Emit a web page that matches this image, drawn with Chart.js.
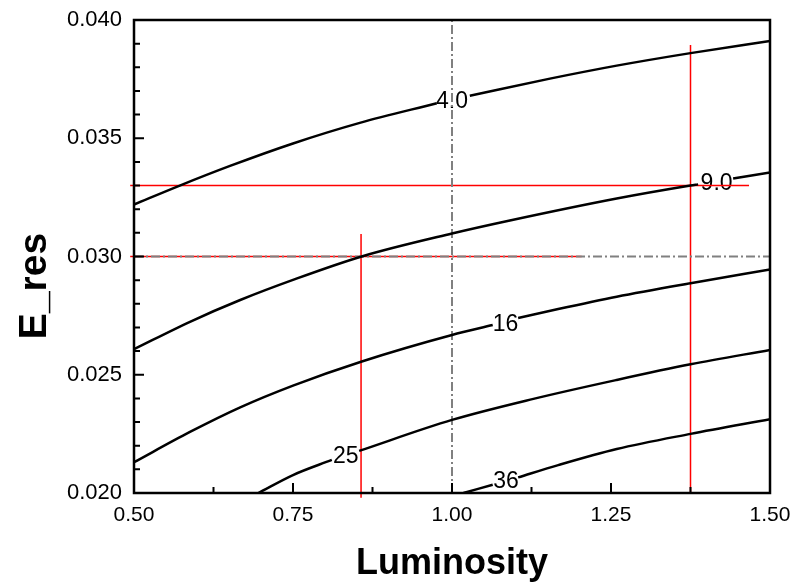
<!DOCTYPE html>
<html><head><meta charset="utf-8">
<script src="https://cdn.jsdelivr.net/npm/chart.js@4/dist/chart.umd.min.js"></script>
<style>html,body{margin:0;padding:0;background:#fff;}#wrap{width:794px;height:582px;}</style>
</head><body><div id="wrap"><canvas id="c" width="794" height="582"></canvas></div>
<script>
// ---- data ----
const xTicks = [0.50, 0.75, 1.00, 1.25, 1.50];
const yTicks = [0.020, 0.025, 0.030, 0.035, 0.040];
const xMinorTicks = [0.625, 0.875, 1.125, 1.375];
const yMinorTicks = [0.021,0.022,0.023,0.024,0.026,0.027,0.028,0.029,0.031,0.032,0.033,0.034,0.036,0.037,0.038,0.039];

const contourLabels = ['4.0', '9.0', '16', '25', '36'];
const labelX = [1.000, 1.416, 1.084, 0.833, 1.085];
const labelY = [0.03662, 0.03313, 0.02718, 0.02159, 0.02055];

// contour lines (x, E_res); a null value marks the gap left for the inline label
const curve4 = [[0.500,0.03220],[0.572,0.03300],[0.651,0.03383],[0.750,0.03478],[0.855,0.03565],[0.976,0.03648],[1.000,null],[1.028,0.03680],[1.154,0.03752],[1.259,0.03807],[1.375,0.03860],[1.500,0.03911]];
const curve9 = [[0.500,0.02608],[0.588,0.02724],[0.667,0.02816],[0.750,0.02901],[0.858,0.03000],[1.000,0.03097],[1.091,0.03152],[1.259,0.03245],[1.375,0.03300],[1.387,0.03305],[1.415,null],[1.442,0.03330],[1.500,0.03355]];
const curve16 = [[0.500,0.02130],[0.588,0.02258],[0.667,0.02362],[0.750,0.02454],[0.857,0.02555],[1.000,0.02668],[1.064,0.02710],[1.084,null],[1.104,0.02740],[1.167,0.02778],[1.259,0.02830],[1.375,0.02887],[1.500,0.02945]];
const curve25 = [[0.6955,0.02000],[0.750,0.02076],[0.811,0.02140],[0.833,null],[0.854,0.02178],[1.000,0.02309],[1.128,0.02398],[1.259,0.02478],[1.375,0.02544],[1.500,0.02605]];
const curve36 = [[1.018,0.02000],[1.064,0.02035],[1.084,null],[1.104,0.02066],[1.167,0.02118],[1.259,0.02186],[1.375,0.02250],[1.500,0.02312]];

// reference lines
const redH1 = [[0.494,0.033],[1.467,0.033]];
const redH2 = [[0.494,0.030],[1.204,0.030]];
const redV1 = [[0.857,0.0198],[0.857,0.03095]];
const redV2 = [[1.375,0.020],[1.375,0.03894]];
const grayV = [[1.0,0.020],[1.0,0.040]];
const grayH = [[0.5,0.030],[1.5,0.030]];

// ---- chart ----
const FONT = "'Liberation Sans', Arial, sans-serif";
const toPts = a => a.map(p => ({x: p[0], y: p[1]}));
const curveDs = c => ({data: toPts(c), borderColor:'#000', borderWidth:2.5, pointRadius:0, cubicInterpolationMode:'monotone', spanGaps:false, order:1});
const redDs = c => ({data: toPts(c), borderColor:'#ff0000', borderWidth:1.5, pointRadius:0, tension:0, clip:false, order:3});
const grayDs = c => ({data: toPts(c), borderColor:'#808080', borderWidth:2, borderDash:[9,3,2,3], pointRadius:0, tension:0, order:2});

const decor = {
  id: 'decor',
  beforeDatasetsDraw(chart) {
    const {ctx, scales:{x, y}} = chart;
    ctx.save();
    ctx.fillStyle = '#000';
    ctx.font = '23px ' + FONT;
    ctx.textAlign = 'center';
    ctx.textBaseline = 'alphabetic';
    contourLabels.forEach((t, i) => {
      ctx.fillText(t, x.getPixelForValue(labelX[i]), y.getPixelForValue(labelY[i]) + 8);
    });
    ctx.restore();
  },
  afterDatasetsDraw(chart) {
    const {ctx, chartArea:a, scales:{x, y}} = chart;
    ctx.save();
    ctx.strokeStyle = '#000';
    ctx.lineWidth = 2.5;
    ctx.strokeRect(a.left, a.top, a.right - a.left, a.bottom - a.top);
    ctx.lineWidth = 2;
    ctx.beginPath();
    xTicks.forEach(v => { const p = x.getPixelForValue(v); ctx.moveTo(p, a.bottom); ctx.lineTo(p, a.bottom - 10); });
    xMinorTicks.forEach(v => { const p = x.getPixelForValue(v); ctx.moveTo(p, a.bottom); ctx.lineTo(p, a.bottom - 6); });
    yTicks.forEach(v => { const p = y.getPixelForValue(v); ctx.moveTo(a.left, p); ctx.lineTo(a.left + 10, p); });
    yMinorTicks.forEach(v => { const p = y.getPixelForValue(v); ctx.moveTo(a.left, p); ctx.lineTo(a.left + 6, p); });
    ctx.stroke();
    ctx.restore();
  },
  afterDraw(chart) {
    const {ctx} = chart;
    ctx.save();
    ctx.fillStyle = '#000';
    ctx.font = 'bold 39px ' + FONT;
    ctx.translate(46, 286);
    ctx.rotate(-Math.PI / 2);
    ctx.textAlign = 'center';
    ctx.textBaseline = 'alphabetic';
    ctx.fillText('E_res', 0, 0);
    ctx.restore();
  }
};

new Chart(document.getElementById('c'), {
  type: 'line',
  data: {
    datasets: [
      curveDs(curve4), curveDs(curve9), curveDs(curve16), curveDs(curve25), curveDs(curve36),
      grayDs(grayV), grayDs(grayH),
      redDs(redH1), redDs(redH2), redDs(redV1), redDs(redV2)
    ]
  },
  options: {
    responsive: false,
    animation: false,
    devicePixelRatio: 1,
    layout: {padding: {top: 20, right: 24, left: 0, bottom: 0}},
    plugins: {legend: {display: false}, tooltip: {enabled: false}},
    scales: {
      x: {
        type: 'linear', min: 0.5, max: 1.5,
        afterBuildTicks: s => { s.ticks = xTicks.map(v => ({value: v})); },
        afterFit: s => { s.height = 89; s.paddingLeft = 0; s.paddingRight = 0; },
        grid: {display: false, drawTicks: false},
        border: {display: false},
        ticks: {color: '#000', font: {family: FONT, size: 21}, padding: 10, maxRotation: 0, autoSkip: false,
                callback: v => Number(v).toFixed(2)},
        title: {display: true, text: 'Luminosity', color: '#000', font: {family: FONT, size: 36, weight: 'bold'}, padding: {top: 0, bottom: -4}}
      },
      y: {
        type: 'linear', min: 0.020, max: 0.040,
        afterBuildTicks: s => { s.ticks = yTicks.map(v => ({value: v})); },
        afterFit: s => { s.width = 134; s.paddingTop = 0; s.paddingBottom = 0; },
        grid: {display: false, drawTicks: false},
        border: {display: false},
        ticks: {color: '#000', font: {family: FONT, size: 22}, padding: 12, autoSkip: false,
                callback: v => Number(v).toFixed(3)}
      }
    }
  },
  plugins: [decor]
});
</script></body></html>
